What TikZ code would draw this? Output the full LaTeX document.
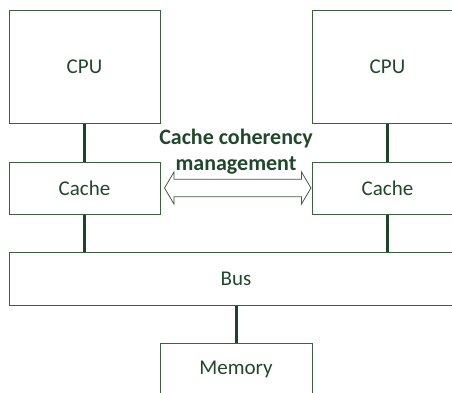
\documentclass[tikz,border=0pt]{standalone}
\usepackage{fontspec}
\setmainfont{Carlito}
\usetikzlibrary{calc}
\definecolor{txtgreen}{RGB}{32,72,44}
\definecolor{boxgreen}{RGB}{58,96,62}
\definecolor{linkgreen}{RGB}{28,68,40}

\tikzset{
    unitbox/.style={draw=boxgreen, line width=1pt, fill=white, text=txtgreen,
        font=\fontsize{21}{25}\selectfont, inner sep=0pt},
    link/.style={draw=linkgreen, line width=3pt},
}

\begin{document}
\begin{tikzpicture}[x=1pt,y=-1pt]
    \useasboundingbox (0,0) rectangle (452,392);
    \clip (0,0) rectangle (452,392);
    % processors and caches
    \node[unitbox, minimum width=151pt, minimum height=113pt] (cpuL) at (84.5,66.5) {CPU};
    \node[unitbox, minimum width=151pt, minimum height=113pt] (cpuR) at (387.5,66.5) {CPU};
    \node[unitbox, minimum width=151pt, minimum height=52pt] (cacheL) at (84.5,188) {Cache};
    \node[unitbox, minimum width=151pt, minimum height=52pt] (cacheR) at (387.5,188) {Cache};
    \node[unitbox, minimum width=454pt, minimum height=53pt] (bus) at (236,278.5) {Bus};
    \node[unitbox, minimum width=152pt, minimum height=53pt] (mem) at (236,369.5) {Memory};
    % links
    \draw[link] (cpuL.south) -- (cacheL.north);
    \draw[link] (cpuR.south) -- (cacheR.north);
    \draw[link] (cacheL.south) -- (cacheL.south |- bus.north);
    \draw[link] (cacheR.south) -- (cacheR.south |- bus.north);
    \draw[link] (bus.south) -- (mem.north);
    % coherency arrow
    \coordinate (tipL) at ($(cacheL.east)+(4,0)$);
    \coordinate (tipR) at ($(cacheR.west)+(-0.5,0)$);
    \draw[draw=boxgreen, line width=0.8pt, fill=white]
        (tipL) -- ++(9.5,-16) -- ++(0,7.3) -- ($(tipR)+(-9.5,-8.7)$) -- ++(0,-7.3)
        -- (tipR) -- ++(-9.5,16) -- ++(0,-7.3) -- ($(tipL)+(9.5,8.7)$) -- ++(0,7.3) -- cycle;
    \node[text=txtgreen, font=\bfseries\fontsize{22}{26}\selectfont, align=center]
        (label) at (236,152) {Cache coherency\\management};
\end{tikzpicture}
\end{document}
